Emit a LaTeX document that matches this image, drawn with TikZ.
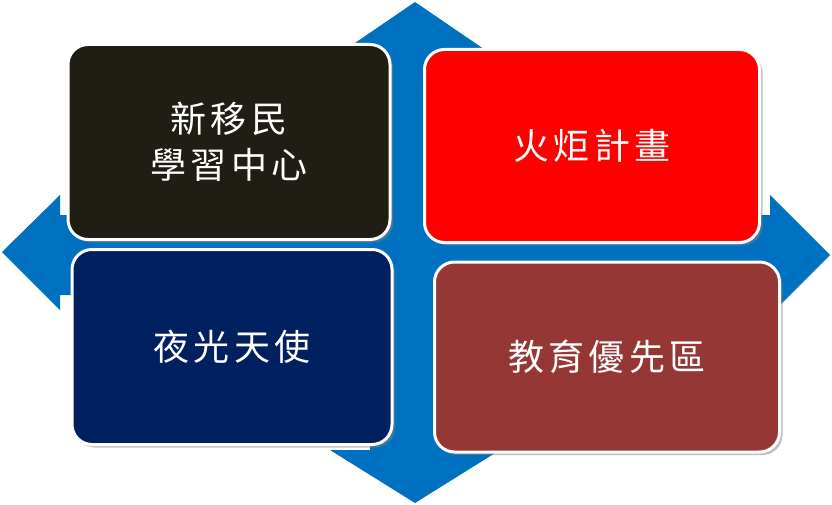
\documentclass[tikz,border=0pt]{standalone}
\usepackage{fontspec}
\newfontfamily\cjk[LetterSpace=12]{Noto Sans CJK TC}
\usetikzlibrary{shadows}
\definecolor{qblue}{HTML}{0070C0}
\definecolor{bdark}{HTML}{1F1D14}
\definecolor{bnavy}{HTML}{002060}
\definecolor{bbrown}{HTML}{953735}
\tikzset{box/.style={draw=white,line width=3pt,rounded corners=20pt,text=white,font=\cjk\fontsize{36}{46}\selectfont,align=center,drop shadow={opacity=0.5,shadow xshift=3pt,shadow yshift=-3pt}}}
\begin{document}
\begin{tikzpicture}[x=1pt,y=-1pt]
\useasboundingbox (0,0) rectangle (832,505);
\fill[qblue] (415,2) -- (500,60) -- (460,60) -- (460,215) -- (770,215) -- (770,195) -- (830,255) -- (770,315) -- (770,295) -- (460,295) -- (460,450) -- (500,450) -- (415,503) -- (330,450) -- (370,450) -- (370,295) -- (60,295) -- (60,310) -- (2,252) -- (60,195) -- (60,215) -- (370,215) -- (370,60) -- (330,60) -- cycle;
\node[box,fill=bdark,minimum width=322pt,minimum height=195pt] (tl) at (229,142) {新移民\\學習中心};
\node[box,fill=red,minimum width=335pt,minimum height=193pt] (tr) at (592,146) {火炬計畫};
\node[box,fill=bnavy,minimum width=320pt,minimum height=195pt] (bl) at (232,347) {夜光天使};
\node[box,fill=bbrown,minimum width=345pt,minimum height=190pt] (br) at (607,357) {教育優先區};
\end{tikzpicture}
\end{document}
